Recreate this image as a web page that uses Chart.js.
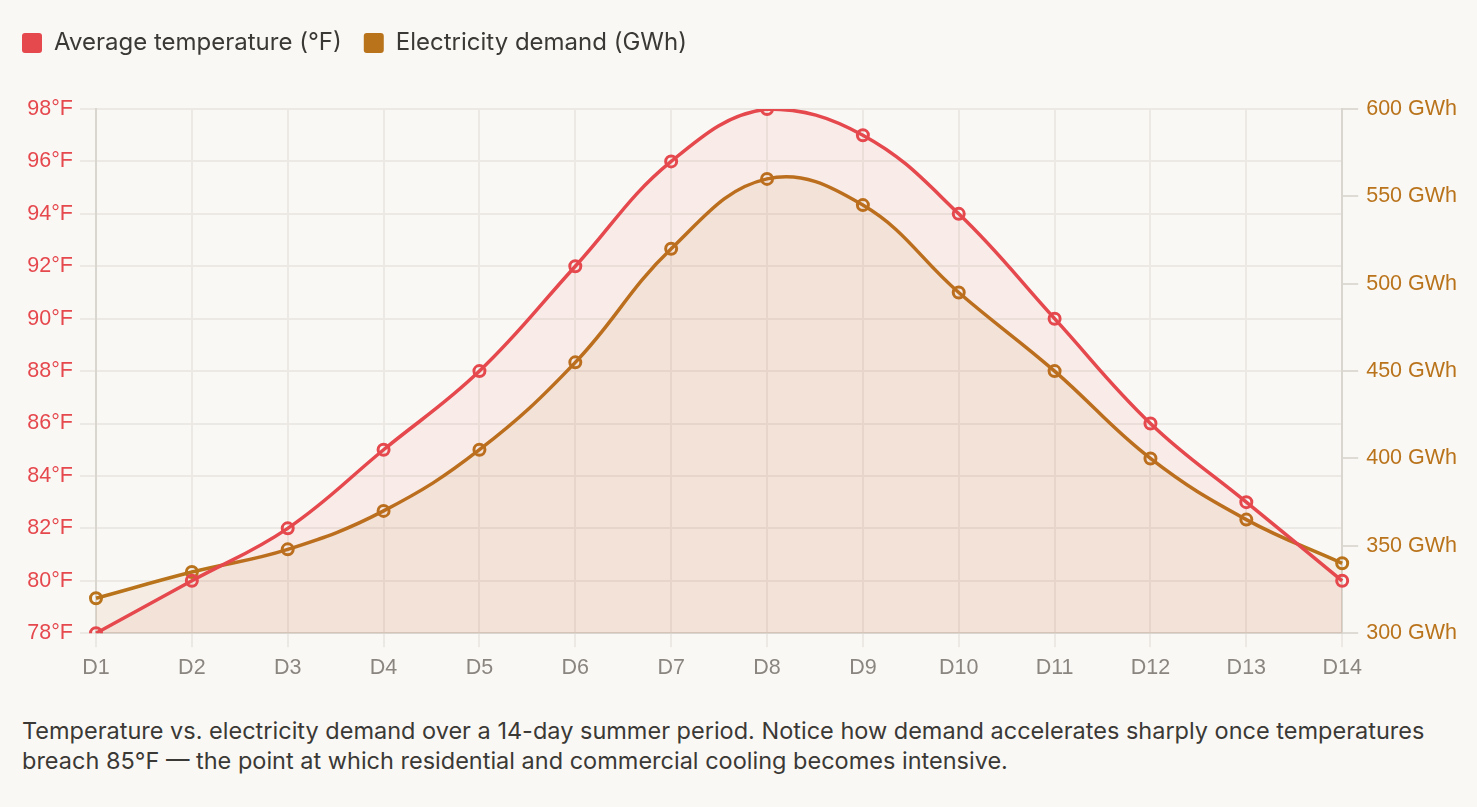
<!DOCTYPE html>
<html>
<head>
<meta charset="utf-8">
<script src="https://cdn.jsdelivr.net/npm/chart.js@4"></script>
<style>
  html, body { margin: 0; padding: 0; background: #faf8f5; }
  #wrap { position: relative; width: 1477px; height: 698px; }
  #caption {
    margin: 18px 0 0 22px;
    width: 1450px;
    font-family: Inter, "Noto Sans", sans-serif;
    font-size: 23.5px;
    line-height: 30px;
    color: #3b3935;
  }
</style>
</head>
<body>
<div id="wrap"><canvas id="demand_chart"></canvas></div>
<div id="caption">Temperature vs. electricity demand over a 14-day summer period. Notice how demand accelerates sharply once temperatures<br>breach 85°F — the point at which residential and commercial cooling becomes intensive.</div>
<script>
const days = ["D1", "D2", "D3", "D4", "D5", "D6", "D7", "D8", "D9", "D10", "D11", "D12", "D13", "D14"];
const temperature = [78, 80, 82, 85, 88, 92, 96, 98, 97, 94, 90, 86, 83, 80];
const demand = [320, 335, 348, 370, 405, 455, 520, 560, 545, 495, 450, 400, 365, 340];

const RED = 'rgb(229, 72, 77)';
const ORANGE = 'rgb(185, 115, 27)';
const GRID = '#ece9e4';
const tickFont = { family: '"Liberation Sans", Arial, sans-serif', size: 21.5 };

// extra room between the legend and the plot
const legendSpacer = {
    id: 'legendSpacer',
    beforeInit(chart) {
        const fit = chart.legend.fit;
        chart.legend.fit = function() {
            fit.bind(chart.legend)();
            this.height += 44;
        };
    }
};

const ctx = document.getElementById('demand_chart').getContext('2d');

const demandChart = new Chart(ctx, {
    type: 'line',
    data: {
        labels: days,
        datasets: [{
            label: 'Average temperature (°F)',
            data: temperature,
            yAxisID: 'yTemp',
            borderColor: RED,
            backgroundColor: 'rgba(229, 72, 77, 0.07)',
            borderWidth: 3.5,
            fill: 'start',
            tension: 0.4,
            pointRadius: 5.5,
            pointBorderWidth: 3,
            pointBackgroundColor: 'rgba(0,0,0,0)',
            pointBorderColor: RED
        }, {
            label: 'Electricity demand (GWh)',
            data: demand,
            yAxisID: 'yDemand',
            borderColor: ORANGE,
            backgroundColor: 'rgba(185, 115, 27, 0.08)',
            borderWidth: 3.5,
            fill: 'start',
            tension: 0.4,
            pointRadius: 5.5,
            pointBorderWidth: 3,
            pointBackgroundColor: 'rgba(0,0,0,0)',
            pointBorderColor: ORANGE
        }]
    },
    plugins: [legendSpacer],
    options: {
        responsive: true,
        maintainAspectRatio: false,
        animation: false,
        layout: { padding: { left: 0, right: 12, top: 9, bottom: 9 } },
        plugins: {
            legend: {
                align: 'start',
                labels: {
                    generateLabels: (chart) => chart.data.datasets.map((ds, i) => ({
                        text: ds.label,
                        fillStyle: ds.borderColor,
                        strokeStyle: ds.borderColor,
                        lineWidth: 0,
                        borderRadius: 3,
                        fontColor: '#3b3935',
                        datasetIndex: i
                    })),
                    useBorderRadius: true,
                    borderRadius: 3,
                    boxWidth: 20,
                    boxHeight: 20,
                    padding: 22,
                    color: '#3b3935',
                    font: { family: 'Inter, "Noto Sans", sans-serif', size: 24 }
                }
            },
            tooltip: { enabled: false }
        },
        scales: {
            x: {
                grid: { color: GRID, lineWidth: 2, tickLength: 14 },
                border: { color: '#d9d6d0', width: 2 },
                ticks: { color: '#8a857f', font: tickFont, padding: 8 }
            },
            yTemp: {
                position: 'left',
                min: 78,
                max: 98,
                afterFit: (axis) => { axis.width = 96; },
                ticks: {
                    stepSize: 2,
                    color: RED,
                    font: tickFont,
                    padding: 7,
                    callback: (v) => v + '°F'
                },
                grid: { color: GRID, lineWidth: 2, tickLength: 16 },
                border: { color: '#d9d6d0', width: 2 }
            },
            yDemand: {
                position: 'right',
                min: 300,
                max: 600,
                ticks: {
                    stepSize: 50,
                    color: ORANGE,
                    font: tickFont,
                    padding: 8,
                    callback: (v) => v + ' GWh'
                },
                grid: { drawOnChartArea: false, color: '#dedbd5', lineWidth: 2, tickLength: 16 },
                border: { color: '#d9d6d0', width: 2 }
            }
        }
    }
});
</script>
</body>
</html>
